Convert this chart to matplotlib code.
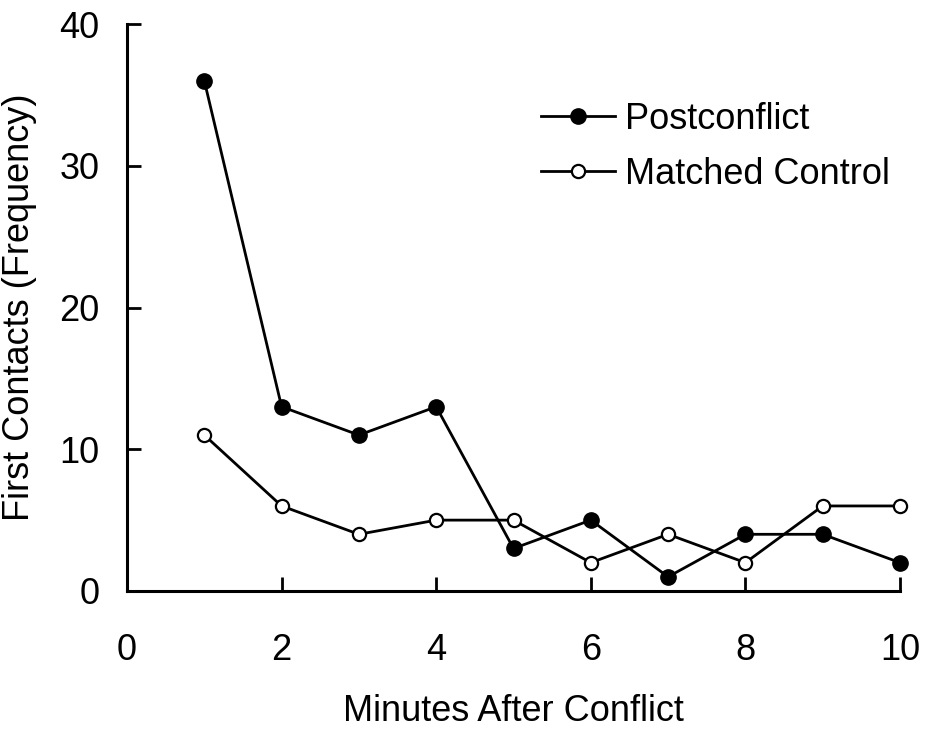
import matplotlib
matplotlib.use("Agg")
import matplotlib.pyplot as plt

plt.rcParams['font.family'] = ['Liberation Sans', 'DejaVu Sans']

minutes = [1, 2, 3, 4, 5, 6, 7, 8, 9, 10]
postconflict = [36, 13, 11, 13, 3, 5, 1, 4, 4, 2]
matched_control = [11, 6, 4, 5, 5, 2, 4, 2, 6, 6]
x_ticks = [0, 2, 4, 6, 8, 10]
y_ticks = [0, 10, 20, 30, 40]

FS = 26

fig = plt.figure(figsize=(9.28, 7.29), dpi=100)
ax = fig.add_axes([127 / 928, 1 - 591 / 729, (900 - 127) / 928, (591 - 24) / 729])

ax.plot(minutes, postconflict, color='black', lw=2, marker='o', ms=11,
        mfc='black', mec='black', label='Postconflict', clip_on=False, zorder=3)
ax.plot(minutes, matched_control, color='black', lw=2, marker='o', ms=9.5,
        mfc='white', mec='black', mew=1.6, label='Matched Control', clip_on=False, zorder=3)

ax.set_xlim(0, 10)
ax.set_ylim(0, 40)
ax.set_xticks(x_ticks)
ax.set_yticks(y_ticks)
for s in ['top', 'right']:
    ax.spines[s].set_visible(False)
for s in ['left', 'bottom']:
    ax.spines[s].set_linewidth(2.2)
ax.tick_params(direction='in', length=10, width=2, labelsize=FS)
ax.tick_params(axis='x', pad=30)
ax.tick_params(axis='y', pad=20)

ax.set_xlabel('Minutes After Conflict', fontsize=FS, labelpad=19)
ax.set_ylabel('First Contacts (Frequency)', fontsize=FS, labelpad=16)

leg = fig.legend(*ax.get_legend_handles_labels(), loc='center left',
                 bbox_to_anchor=(541 / 928, 1 - 147 / 729), frameon=False,
                 fontsize=FS, handlelength=2.05, handletextpad=0.28,
                 labelspacing=0.56, borderpad=0, borderaxespad=0)

fig.savefig('out.png', dpi=100)
